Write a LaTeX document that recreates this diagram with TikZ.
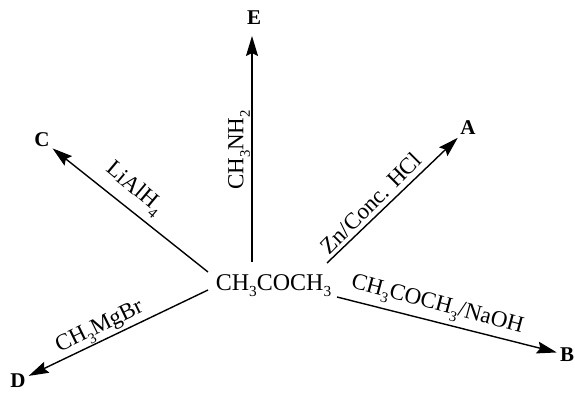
\documentclass[tikz,border=0pt]{standalone}
\usepackage{graphicx}
\usepackage{fontspec}
\setmainfont{Liberation Serif}
\usetikzlibrary{arrows.meta}
\newcommand\chsub[1]{\raisebox{-0.28em}{\scalebox{0.64}{#1}}}
\begin{document}
\begin{tikzpicture}[x=1pt,y=-1pt,
  arr/.style={line width=1.4pt,-{Stealth[length=20pt,width=12pt,inset=3pt]},shorten >=1pt},
  prod/.style={font=\fontsize{21}{21}\selectfont\bfseries,inner sep=2pt},
  reag/.style={font=\fontsize{23}{25}\selectfont,inner sep=0pt},
  main/.style={font=\fontsize{24}{27}\selectfont,inner sep=0pt}]
\useasboundingbox (0,0) rectangle (575,393);
\node[main,anchor=base] (m) at (273.5,290) {CH\chsub{3}COCH\chsub{3}};
\node[prod] (E) at (254,18) {E};
\node[prod] (C) at (42,140) {C};
\node[prod] (A) at (468,128) {A};
\node[prod] (B) at (567,355) {B};
\node[prod] (D) at (18,381) {D};
\coordinate (sE) at (252,262);
\coordinate (sC) at (208,272);
\coordinate (sA) at (327,263);
\coordinate (sB) at (337,297);
\coordinate (sD) at (208,290);
\coordinate (tE) at (252,35);
\draw[arr] (sE) -- (tE);
\draw[arr] (sC) -- (C);
\draw[arr] (sA) -- (A);
\draw[arr] (sB) -- (B);
\draw[arr] (sD) -- (D);
\node[reag,rotate=90] (rE) at (239,150) {CH\chsub{3}NH\chsub{2}};
\node[reag,rotate=-40] (rC) at (134,189) {LiAlH\chsub{4}};
\node[reag,rotate=45] (rA) at (371,203) {Zn/Conc. HCl};
\node[reag,rotate=-15] (rB) at (437,306) {CH\chsub{3}COCH\chsub{3}/NaOH};
\node[reag,rotate=26] (rD) at (100,328) {CH\chsub{3}MgBr};
\end{tikzpicture}
\end{document}
